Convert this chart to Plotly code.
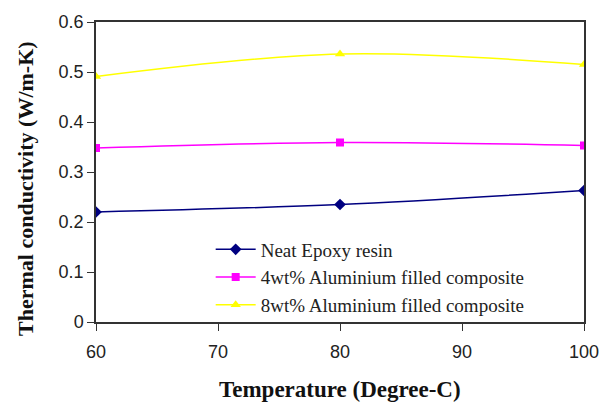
import plotly.graph_objects as go

temperature = [60, 80, 100]
neat_epoxy = [0.220, 0.235, 0.263]
al_4wt = [0.348, 0.359, 0.353]
al_8wt = [0.491, 0.536, 0.515]

x_title = "Temperature (Degree-C)"
y_title = "Thermal conductivity (W/m-K)"

series = [
    ("Neat Epoxy resin", neat_epoxy, "#000080", "diamond", 9),
    ("4wt% Aluminium filled composite", al_4wt, "#FF00FF", "square", 8),
    ("8wt% Aluminium filled composite", al_8wt, "#FFFF00", "triangle-up", 9),
]

fig = go.Figure()
for name, vals, color, sym, size in series:
    fig.add_trace(go.Scatter(
        x=temperature, y=vals, name=name, mode="lines+markers",
        line=dict(color=color, width=1.5, shape="spline", smoothing=1.0),
        marker=dict(color=color, symbol=sym, size=size),
    ))

axis_common = dict(
    showline=True, linecolor="#333333", linewidth=1.5, mirror=True,
    ticks="outside", ticklen=7, tickcolor="#333333", showgrid=False, zeroline=False,
    tickfont=dict(family="Liberation Sans, Arial, sans-serif", size=18, color="#222222"),
)

x_title_font = dict(family="Liberation Serif, Times New Roman, serif", size=23, color="#111111")
y_title_font = dict(family="Liberation Serif, Times New Roman, serif", size=22, color="#111111")

fig.update_layout(
    width=611, height=405,
    margin=dict(l=96, r=24, t=21, b=83),
    paper_bgcolor="white", plot_bgcolor="white",
    showlegend=True,
    legend=dict(x=0.235, y=0.305, xanchor="left", yanchor="top",
                bgcolor="rgba(255,255,255,0)",
                font=dict(family="Liberation Serif, Times New Roman, serif", size=19, color="#222222"),
                tracegroupgap=0, itemwidth=40),
    xaxis=dict(range=[60, 100], dtick=10, tick0=60, ticklabelstandoff=6, **axis_common),
    yaxis=dict(range=[0, 0.6], dtick=0.1, tick0=0, **axis_common),
    annotations=[
        dict(text="<b>" + x_title + "</b>", xref="paper", yref="paper",
             x=0.5, y=-0.226, xanchor="center", yanchor="middle",
             showarrow=False, font=x_title_font),
        dict(text="<b>" + y_title + "</b>", xref="paper", yref="paper",
             x=-0.1446, y=0.445, xanchor="center", yanchor="middle",
             textangle=-90, showarrow=False, font=y_title_font),
    ],
)

fig.write_html("out.html")
